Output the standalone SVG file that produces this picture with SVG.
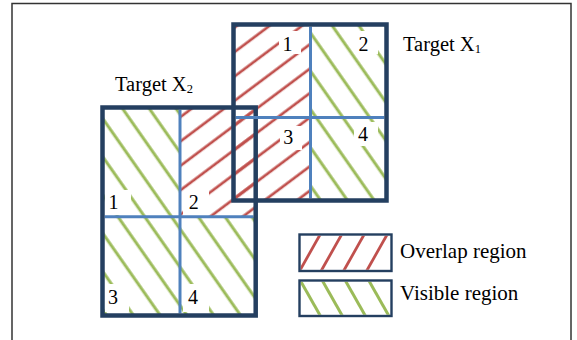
<svg xmlns="http://www.w3.org/2000/svg" width="577" height="340" viewBox="0 0 577 340">
<style>
.box{fill:none;stroke:#243F60;stroke-width:4.5}
.div{stroke:#4F81BD;stroke-width:3;fill:none}
.lbl{font-family:"Liberation Serif","Times New Roman",serif;font-size:20.5px;fill:#000}
.lg{font-family:"Liberation Serif","Times New Roman",serif;font-size:21px;fill:#000}
.num{font-family:"Liberation Serif","Times New Roman",serif;font-size:20px;fill:#000;text-anchor:middle}
.wb{fill:#fff}
.leg{fill:none;stroke:#243F60;stroke-width:2.4}
.rl{stroke:#C0504D;stroke-width:2.8}
.gl{stroke:#9BBB59;stroke-width:3}
</style>
<defs>
<pattern id="redHatch" patternUnits="userSpaceOnUse" width="19.52" height="20" patternTransform="rotate(53.13)">
<rect x="5.33" y="0" width="2.7" height="20" fill="#C0504D"/>
</pattern>
<pattern id="greenHatch" patternUnits="userSpaceOnUse" width="21.93" height="20" patternTransform="rotate(-35)">
<rect x="14.63" y="0" width="3" height="20" fill="#9BBB59"/>
</pattern>
<clipPath id="leg1"><rect x="300.7" y="235.7" width="89.6" height="34.1"/></clipPath>
<clipPath id="leg2"><rect x="300.7" y="281.7" width="89.6" height="33.1"/></clipPath>
</defs>
<rect x="12" y="3.5" width="559" height="400" fill="#fff" stroke="#333" stroke-width="1.5"/>
<g id="hatching">
<rect x="233.5" y="24.5" width="77" height="176" fill="url(#redHatch)"/>
<rect x="180" y="107.5" width="75.7" height="109.2" fill="url(#redHatch)"/>
<rect x="310.5" y="24.5" width="76" height="176" fill="url(#greenHatch)"/>
<rect x="102.5" y="107.5" width="77.5" height="109.2" fill="url(#greenHatch)"/>
<rect x="102.5" y="216.7" width="153.2" height="98.8" fill="url(#greenHatch)"/>
</g>
<g id="label-backgrounds">
<rect class="wb" x="279" y="31" width="22" height="23"/>
<rect class="wb" x="354" y="31" width="24" height="23"/>
<rect class="wb" x="280" y="126" width="22" height="24"/>
<rect class="wb" x="354" y="122" width="24" height="24"/>
<rect class="wb" x="105" y="190" width="26" height="25"/>
<rect class="wb" x="183" y="191" width="26" height="24"/>
<rect class="wb" x="105" y="284" width="24" height="28"/>
<rect class="wb" x="183" y="284" width="26" height="28"/>
</g>
<g id="target-x2">
<line class="div" x1="180" y1="109.7" x2="180" y2="313.3"/>
<line class="div" x1="104.7" y1="216.7" x2="253.5" y2="216.7"/>
<rect class="box" x="102.5" y="107.5" width="153.2" height="208"/>
<text class="num" x="113.5" y="209">1</text>
<text class="num" x="193.7" y="208.5">2</text>
<text class="num" x="113" y="303.5">3</text>
<text class="num" x="193" y="304">4</text>
<text class="lbl" x="115" y="90.7">Target X<tspan font-size="12.5" dy="2.6">2</tspan></text>
</g>
<g id="target-x1">
<line class="div" x1="310.5" y1="26.7" x2="310.5" y2="198.3"/>
<line class="div" x1="235.7" y1="117.5" x2="384.3" y2="117.5"/>
<rect class="box" x="233.5" y="24.5" width="153" height="176"/>
<text class="num" x="287.5" y="50.7">1</text>
<text class="num" x="363.5" y="50.7">2</text>
<text class="num" x="288.3" y="144.3">3</text>
<text class="num" x="363" y="141">4</text>
<text class="lbl" x="403" y="51">Target X<tspan font-size="12.5" dy="1.6">1</tspan></text>
</g>
<g id="legend-overlap">
<g clip-path="url(#leg1)">
<line class="rl" x1="299" y1="272" x2="321" y2="233"/>
<line class="rl" x1="320.5" y1="272" x2="342.5" y2="233"/>
<line class="rl" x1="343" y1="272" x2="365" y2="233"/>
<line class="rl" x1="366" y1="272" x2="388" y2="233"/>
</g>
<rect class="leg" x="299.5" y="234.5" width="92" height="36.5"/>
<text class="lg" x="400" y="258">Overlap region</text>
</g>
<g id="legend-visible">
<g clip-path="url(#leg2)">
<line class="gl" x1="300" y1="280" x2="321" y2="317"/>
<line class="gl" x1="322" y1="280" x2="343" y2="317"/>
<line class="gl" x1="345" y1="280" x2="366" y2="317"/>
<line class="gl" x1="368.5" y1="280" x2="389.5" y2="317"/>
</g>
<rect class="leg" x="299.5" y="280.5" width="92" height="35.5"/>
<text class="lg" x="400" y="300">Visible region</text>
</g>
<g id="connectors"/>
</svg>
